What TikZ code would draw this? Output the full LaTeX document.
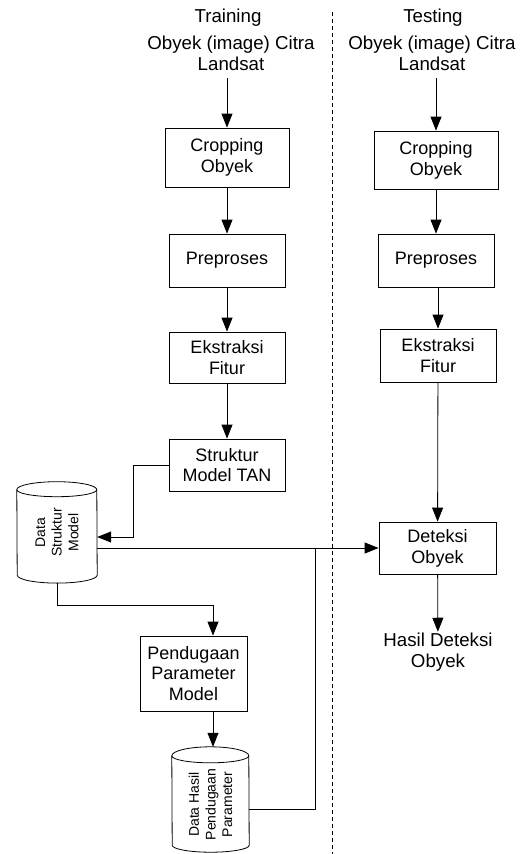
\documentclass[tikz,border=0pt]{standalone}
\usepackage{fontspec}
\setmainfont{Liberation Sans}
\usetikzlibrary{arrows.meta}

\tikzset{
  box/.style={draw, line width=0.8pt, align=center, inner sep=0pt, minimum width=116, minimum height=53,
    font=\fontsize{18}{20.7}\selectfont},
  lbl/.style={align=center, inner sep=1pt, font=\fontsize{18.7}{20.7}\selectfont},
  dbtext/.style={rotate=90, align=center, inner sep=0pt, font=\fontsize{14}{16.7}\selectfont},
  arr/.style={line width=0.8pt, -{Triangle[length=14pt,width=11pt]}},
  ln/.style={line width=0.8pt}
}

\begin{document}
\begin{tikzpicture}[x=1pt,y=1pt]
\useasboundingbox (0,0) rectangle (525,-854);

% headers
\node [lbl] (trn) at (228,-18) {Training};
\node [lbl] (tst) at (433,-18) {Testing};

\draw[ln, dashed, dash pattern=on 4pt off 3pt] (332,-12)--(332,-854);

% training column
\node [lbl] (inL) at (231,-53) {Obyek (image) Citra\\Landsat};
\node [box, minimum width=124, minimum height=59] (cropL) at (227,-157.5) {Cropping\\Obyek};
\node [box] (preL) at (227,-260.5) {Preproses};
\node [box, minimum height=51] (ekL) at (227,-357.5) {Ekstraksi\\Fitur};
\node [box, minimum height=52] (stm) at (227,-465) {Struktur\\Model TAN};
\node [box, minimum width=107, minimum height=75] (pdg) at (193.5,-673.5) {Pendugaan\\Parameter\\Model};

% testing column
\node [lbl] (inR) at (432,-53) {Obyek (image) Citra\\Landsat};
\node [box, minimum width=124, minimum height=58] (cropR) at (436,-160) {Cropping\\Obyek};
\node [box] (preR) at (436,-260.5) {Preproses};
\node [box] (ekR) at (438,-355.5) {Ekstraksi\\Fitur};
\node [box, minimum width=117, minimum height=52] (det) at (437.5,-548) {Deteksi\\Obyek};
\node [lbl] (hsl) at (438,-652) {Hasil Deteksi\\Obyek};

% data stores
\node [minimum width=80, minimum height=101, inner sep=0pt] (dsm) at (57,-532.4) {};
\node [dbtext] at (dsm) {Data\\Struktur\\Model};
\draw[ln] ([yshift=-8]dsm.north west) arc[start angle=180,end angle=0,x radius=40,y radius=8]
  -- ([yshift=8]dsm.south east) arc[start angle=0,end angle=-180,x radius=40,y radius=8] -- cycle;
\draw[ln] ([yshift=-8]dsm.north west) arc[start angle=180,end angle=360,x radius=40,y radius=7];

\node [minimum width=77, minimum height=105, inner sep=0pt] (dhp) at (210.5,-799.5) {};
\node [dbtext] at ([yshift=-5]dhp) {Data Hasil\\Pendugaan\\Parameter};
\draw[ln] ([yshift=-9]dhp.north west) arc[start angle=180,end angle=0,x radius=38.5,y radius=9]
  -- ([yshift=7]dhp.south east) arc[start angle=0,end angle=-180,x radius=38.5,y radius=7] -- cycle;
\draw[ln] ([yshift=-9]dhp.north west) arc[start angle=180,end angle=360,x radius=38.5,y radius=7];

% arrows
\draw[arr] (cropL.north |- 0,-78) -- (cropL.north);
\draw[arr] (cropL) -- (preL);
\draw[arr] (preL) -- (ekL);
\draw[arr] (ekL) -- (stm);
\draw[arr] (stm.west) -- ++(-35,0) |- ([yshift=-4.6]dsm.east);
\draw[arr] ([yshift=-15.6]dsm.east) -- (det.west);
\draw[arr] (dsm.south) -- ++(0,-22) -| ([xshift=19.5]pdg.north);
\draw[arr] ([xshift=19.5]pdg.south) -- ([xshift=19.5]pdg.south |- dhp.north);
\coordinate (jn) at (315,-548);
\draw[ln] ([yshift=-9.5]dhp.east) -| (jn);

\draw[arr] (cropR.north |- 0,-78) -- (cropR.north);
\draw[arr] (cropR) -- (preR);
\draw[arr] (preR.south) -- (preR.south -| ekR.north) -- (ekR.north);
\draw[arr] (ekR) -- (det);
\draw[arr] (det) -- (hsl);

\end{tikzpicture}
\end{document}
